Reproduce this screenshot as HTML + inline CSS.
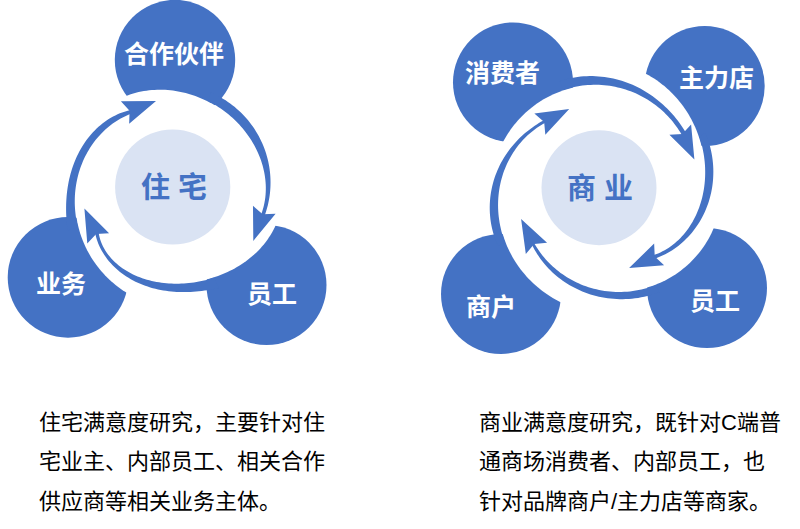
<!DOCTYPE html>
<html lang="zh"><head><meta charset="utf-8"><title>满意度研究</title>
<style>html,body{margin:0;padding:0;background:#fff;font-family:"Liberation Sans","Noto Sans CJK SC",sans-serif;}svg{display:block}</style>
</head><body>
<svg width="800" height="529" viewBox="0 0 800 529">
<rect width="800" height="529" fill="#fff"/>
<mask id="m1" maskUnits="userSpaceOnUse" x="0" y="0" width="800" height="529"><rect width="800" height="529" fill="#fff"/><path d="M138.14 298.94L135.43 297.65L132.77 296.29L130.16 294.87L127.59 293.37L125.08 291.82L122.62 290.19L120.21 288.51L117.85 286.77L115.55 284.97L113.31 283.12L111.13 281.22L109.01 279.26L106.94 277.26L104.94 275.21L103 273.11L101.13 270.98L99.32 268.8L97.57 266.59L95.88 264.34L94.26 262.05L92.71 259.73L91.22 257.39L89.8 255.01L88.44 252.61L87.15 250.18L85.93 247.73L84.78 245.26L83.69 242.77L82.67 240.27L81.71 237.75L80.82 235.21L80 232.67L79.24 230.11L78.55 227.54L77.93 224.97L77.37 222.39L76.88 219.81L76.46 217.23L76.1 214.65L75.8 212.06L75.57 209.48L75.4 206.9L75.3 204.33L75.26 201.77L75.28 199.21L75.36 196.66L75.51 194.13L75.72 191.6L75.99 189.09L76.32 186.6L76.71 184.12L77.16 181.65L77.67 179.21L78.24 176.79L78.87 174.39L79.55 172.01L80.29 169.66L81.09 167.33L81.94 165.03L82.85 162.76L83.81 160.51L84.83 158.3L85.9 156.12L87.02 153.97L88.19 151.86L89.42 149.78L90.69 147.75L92.02 145.74L93.39 143.78L94.81 141.86L96.27 139.99L97.78 138.15L99.34 136.37L100.94 134.62L102.58 132.93L104.26 131.28L105.99 129.69L107.75 128.15L109.55 126.66L111.38 125.22L113.25 123.84L115.16 122.52L117.09 121.25L119.06 120.04L121.05 118.9L123.08 117.81L125.12 116.79L127.2 115.83L129.29 114.94L131.4 114.11L133.54 113.35L172 190Z" fill="#000"/></mask><circle cx="68" cy="277.4" r="60.3" fill="#4472C4" mask="url(#m1)"/>
<mask id="m2" maskUnits="userSpaceOnUse" x="0" y="0" width="800" height="529"><rect width="800" height="529" fill="#fff"/><path d="M115.68 100.85L118.1 99.56L120.56 98.34L123.06 97.21L125.59 96.16L128.15 95.19L130.73 94.3L133.33 93.49L135.95 92.77L138.58 92.12L141.23 91.56L143.88 91.07L146.54 90.66L149.21 90.32L151.87 90.07L154.54 89.88L157.2 89.77L159.85 89.73L162.5 89.77L165.13 89.87L167.76 90.04L170.37 90.28L172.96 90.59L175.54 90.95L178.1 91.39L180.64 91.88L183.16 92.44L185.66 93.05L188.13 93.72L190.58 94.45L193 95.23L195.4 96.07L197.77 96.96L200.11 97.9L202.42 98.9L204.71 99.94L206.96 101.03L209.18 102.17L211.37 103.36L213.53 104.59L215.65 105.87L217.74 107.19L219.8 108.55L221.83 109.96L223.81 111.4L225.77 112.89L227.68 114.42L229.56 115.99L231.4 117.59L233.2 119.24L234.97 120.92L236.69 122.64L238.38 124.39L240.02 126.18L241.63 128.01L243.19 129.87L244.7 131.77L246.18 133.69L247.6 135.66L248.98 137.65L250.32 139.68L251.6 141.73L252.84 143.82L254.03 145.93L255.16 148.08L256.25 150.25L257.27 152.45L258.25 154.67L259.16 156.92L260.02 159.19L260.82 161.49L261.56 163.8L262.24 166.14L262.85 168.49L263.4 170.86L263.88 173.25L264.3 175.65L264.65 178.05L264.92 180.47L265.13 182.9L265.26 185.33L265.32 187.76L265.31 190.19L265.21 192.62L265.04 195.04L264.8 197.46L264.47 199.86L264.06 202.25L263.57 204.62L263 206.97L262.35 209.3L261.62 211.6L260.8 213.87L259.91 216.1L172 190Z" fill="#000"/></mask><circle cx="175" cy="60" r="60.2" fill="#4472C4" mask="url(#m2)"/>
<mask id="m3" maskUnits="userSpaceOnUse" x="0" y="0" width="800" height="529"><rect width="800" height="529" fill="#fff"/><path d="M279.57 213.98L278.8 216.75L277.92 219.48L276.93 222.17L275.84 224.82L274.66 227.43L273.38 229.98L272.02 232.49L270.57 234.94L269.04 237.33L267.43 239.67L265.76 241.94L264.02 244.16L262.21 246.31L260.35 248.4L258.43 250.42L256.46 252.38L254.44 254.28L252.37 256.1L250.27 257.87L248.12 259.56L245.95 261.2L243.74 262.76L241.5 264.27L239.23 265.7L236.94 267.08L234.63 268.39L232.3 269.64L229.95 270.83L227.58 271.96L225.21 273.03L222.82 274.05L220.41 275L218.01 275.9L215.59 276.74L213.16 277.53L210.73 278.26L208.3 278.94L205.86 279.57L203.42 280.15L200.98 280.67L198.53 281.14L196.09 281.57L193.64 281.94L191.19 282.26L188.75 282.54L186.3 282.76L183.86 282.94L181.42 283.06L178.98 283.14L176.55 283.16L174.12 283.14L171.69 283.06L169.27 282.94L166.85 282.76L164.44 282.53L162.04 282.25L159.65 281.91L157.26 281.52L154.89 281.07L152.53 280.57L150.18 280.01L147.85 279.4L145.53 278.72L143.24 277.99L140.96 277.19L138.71 276.33L136.48 275.41L134.28 274.43L132.11 273.38L129.97 272.27L127.87 271.09L125.81 269.85L123.8 268.55L121.82 267.17L119.9 265.74L118.04 264.23L116.23 262.66L114.48 261.03L112.79 259.33L111.18 257.58L109.65 255.75L108.19 253.87L106.82 251.93L105.53 249.94L104.34 247.89L103.25 245.79L102.26 243.64L101.38 241.44L100.62 239.2L99.97 236.93L99.45 234.62L99.05 232.29L98.79 229.93L172 190Z" fill="#000"/></mask><circle cx="266.5" cy="285" r="60" fill="#4472C4" mask="url(#m3)"/>
<path d="M67.65 230.69L67.26 227.69L66.93 224.71L66.65 221.74L66.42 218.8L66.26 215.87L66.14 212.95L66.09 210.05L66.09 207.17L66.14 204.31L66.25 201.46L66.42 198.63L66.64 195.82L66.92 193.03L67.26 190.26L67.65 187.5L68.11 184.77L68.61 182.05L69.18 179.36L69.81 176.69L70.49 174.05L71.23 171.43L72.04 168.84L72.9 166.27L73.82 163.73L74.8 161.23L75.84 158.75L76.94 156.32L78.1 153.91L79.32 151.54L80.6 149.22L81.94 146.93L83.34 144.69L84.8 142.49L86.32 140.34L87.89 138.24L89.52 136.2L91.2 134.2L92.94 132.27L94.74 130.39L96.59 128.57L98.48 126.82L100.43 125.13L102.43 123.52L104.47 121.97L106.55 120.5L108.68 119.1L110.85 117.78L113.06 116.54L115.3 115.38L117.57 114.31L119.88 113.33L122.21 112.43L124.56 111.63L126.94 110.91L129.33 110.29L131.74 109.77L133.31 112.9L131.14 113.68L129 114.52L126.87 115.43L124.77 116.41L122.69 117.46L120.63 118.56L118.61 119.73L116.61 120.97L114.65 122.26L112.71 123.61L110.82 125.02L108.96 126.49L107.13 128.02L105.35 129.59L103.61 131.22L101.9 132.9L100.24 134.64L98.63 136.42L97.06 138.24L95.53 140.12L94.05 142.04L92.62 144L91.24 146L89.91 148.05L88.63 150.13L87.4 152.25L86.22 154.41L85.1 156.6L84.03 158.83L83.02 161.09L82.06 163.38L81.16 165.7L80.31 168.05L79.52 170.42L78.79 172.82L78.12 175.25L77.51 177.7L76.96 180.17L76.47 182.66L76.03 185.17L75.67 187.69L75.36 190.24L75.11 192.79L74.93 195.36L74.82 197.95L74.76 200.54L74.77 203.14L74.85 205.75L74.99 208.37L75.2 210.99L75.47 213.61L75.81 216.24L76.22 218.86L76.69 221.48L77.23 224.1L77.84 226.72Z" fill="#4472C4"/><path d="M129.17 123.66L156 101L120.89 101.13L129.58 110.72Z" fill="#4472C4"/>
<path d="M211 92.55L213.53 93.68L216.03 94.88L218.48 96.16L220.9 97.49L223.28 98.9L225.62 100.37L227.92 101.9L230.17 103.49L232.37 105.14L234.52 106.86L236.62 108.63L238.67 110.45L240.66 112.33L242.61 114.27L244.49 116.25L246.32 118.28L248.08 120.36L249.79 122.49L251.43 124.65L253.02 126.86L254.53 129.11L255.99 131.4L257.38 133.72L258.7 136.08L259.95 138.47L261.14 140.89L262.26 143.34L263.31 145.81L264.29 148.3L265.2 150.82L266.04 153.36L266.8 155.92L267.5 158.49L268.12 161.07L268.68 163.67L269.16 166.27L269.57 168.89L269.9 171.51L270.17 174.13L270.36 176.75L270.48 179.37L270.53 181.99L270.51 184.61L270.42 187.22L270.26 189.82L270.03 192.41L269.73 194.98L269.36 197.55L268.92 200.09L268.41 202.62L267.84 205.13L267.2 207.62L266.5 210.08L265.73 212.52L264.9 214.93L264.01 217.32L260.38 216.24L261.3 213.97L262.13 211.65L262.87 209.31L263.53 206.94L264.1 204.54L264.59 202.12L265 199.68L265.32 197.23L265.57 194.77L265.73 192.3L265.81 189.83L265.82 187.35L265.74 184.87L265.59 182.4L265.37 179.93L265.07 177.46L264.7 175.01L264.26 172.57L263.75 170.15L263.18 167.73L262.53 165.34L261.83 162.97L261.05 160.61L260.22 158.28L259.32 155.98L258.37 153.69L257.36 151.44L256.29 149.2L255.17 147L253.99 144.83L252.76 142.69L251.48 140.57L250.15 138.49L248.76 136.44L247.33 134.43L245.86 132.44L244.33 130.49L242.77 128.58L241.15 126.7L239.5 124.86L237.8 123.06L236.06 121.29L234.28 119.56L232.46 117.87L230.59 116.22L228.69 114.6L226.75 113.03L224.78 111.5L222.77 110.01L220.72 108.57L218.63 107.17L216.51 105.81L214.35 104.5L212.16 103.23L209.94 102.01L207.68 100.84Z" fill="#4472C4"/><path d="M252.97 205.79L253.3 240.9L275.6 213.78L262.67 214.36Z" fill="#4472C4"/>
<path d="M218.81 287.89L215.93 288.54L213.07 289.13L210.22 289.67L207.38 290.16L204.54 290.59L201.72 290.97L198.91 291.3L196.11 291.57L193.31 291.79L190.53 291.95L187.76 292.06L184.99 292.11L182.24 292.11L179.49 292.04L176.76 291.93L174.04 291.75L171.33 291.51L168.64 291.22L165.96 290.86L163.3 290.44L160.65 289.96L158.02 289.42L155.41 288.82L152.83 288.15L150.26 287.41L147.72 286.61L145.21 285.75L142.73 284.82L140.28 283.82L137.86 282.76L135.47 281.63L133.13 280.44L130.82 279.18L128.56 277.86L126.35 276.46L124.18 275.01L122.06 273.49L120 271.9L118 270.26L116.05 268.55L114.17 266.78L112.35 264.96L110.6 263.08L108.92 261.14L107.32 259.15L105.8 257.1L104.35 255.01L102.99 252.87L101.72 250.69L100.53 248.47L99.43 246.21L98.43 243.91L97.53 241.58L96.73 239.23L96.02 236.85L95.42 234.45L94.93 232.03L98.35 230.17L98.63 232.59L99.04 234.99L99.59 237.35L100.27 239.69L101.07 241.98L101.99 244.23L103.02 246.43L104.16 248.58L105.41 250.67L106.75 252.71L108.18 254.69L109.7 256.6L111.3 258.46L112.98 260.24L114.73 261.97L116.55 263.62L118.43 265.21L120.37 266.73L122.37 268.17L124.42 269.56L126.51 270.87L128.65 272.11L130.82 273.29L133.04 274.39L135.28 275.43L137.56 276.41L139.86 277.31L142.19 278.16L144.54 278.94L146.92 279.65L149.31 280.31L151.72 280.9L154.14 281.43L156.57 281.9L159.02 282.32L161.48 282.68L163.94 282.98L166.42 283.22L168.9 283.41L171.38 283.55L173.88 283.63L176.37 283.66L178.88 283.64L181.38 283.56L183.89 283.43L186.4 283.25L188.91 283.02L191.42 282.74L193.93 282.4L196.44 282.01L198.96 281.57L201.47 281.08L203.98 280.53L206.48 279.93L208.98 279.27L211.48 278.56L213.98 277.79Z" fill="#4472C4"/><path d="M109.09 233.37L84.4 208.4L87.29 243.4L96.16 233.97Z" fill="#4472C4"/>
<circle cx="172.7" cy="187" r="57.6" fill="#DAE3F3"/>
<mask id="m4" maskUnits="userSpaceOnUse" x="0" y="0" width="800" height="529"><rect width="800" height="529" fill="#fff"/><path d="M572.87 307.61L569.86 306.46L566.9 305.24L563.98 303.93L561.1 302.56L558.27 301.11L555.49 299.59L552.76 298L550.08 296.34L547.46 294.62L544.89 292.83L542.38 290.97L539.92 289.06L537.53 287.09L535.19 285.06L532.93 282.97L530.72 280.83L528.58 278.64L526.51 276.4L524.5 274.11L522.57 271.78L520.7 269.4L518.91 266.98L517.18 264.52L515.53 262.02L513.96 259.49L512.45 256.93L511.03 254.33L509.68 251.71L508.4 249.06L507.2 246.39L506.08 243.69L505.04 240.98L504.07 238.25L503.19 235.5L502.38 232.74L501.64 229.97L500.99 227.19L500.41 224.4L499.92 221.61L499.5 218.82L499.15 216.03L498.89 213.25L498.7 210.46L498.59 207.69L498.55 204.92L498.59 202.17L498.71 199.42L498.9 196.7L499.16 193.99L499.49 191.3L499.9 188.63L500.38 185.98L500.93 183.37L501.54 180.77L502.23 178.21L502.98 175.68L503.8 173.18L504.68 170.71L505.62 168.28L506.63 165.89L507.69 163.54L508.82 161.23L510.01 158.96L511.25 156.74L512.54 154.56L513.89 152.42L515.29 150.34L516.74 148.3L518.24 146.32L519.78 144.39L521.37 142.51L523.01 140.68L524.68 138.91L526.4 137.19L528.15 135.54L529.94 133.94L531.77 132.39L533.62 130.91L535.51 129.49L537.43 128.12L539.37 126.82L541.34 125.58L543.33 124.4L545.34 123.29L547.37 122.23L602 188Z" fill="#000"/></mask><circle cx="501" cy="294" r="60" fill="#4472C4" mask="url(#m4)"/>
<mask id="m5" maskUnits="userSpaceOnUse" x="0" y="0" width="800" height="529"><rect width="800" height="529" fill="#fff"/><path d="M497.39 154.34L498.45 151.68L499.57 149.05L500.76 146.46L502.02 143.9L503.33 141.37L504.71 138.88L506.15 136.44L507.65 134.03L509.21 131.67L510.83 129.35L512.5 127.07L514.23 124.85L516.02 122.67L517.86 120.54L519.75 118.46L521.69 116.44L523.68 114.47L525.72 112.55L527.81 110.69L529.94 108.89L532.12 107.15L534.34 105.47L536.6 103.85L538.9 102.29L541.23 100.79L543.61 99.36L546.01 98L548.45 96.7L550.92 95.47L553.41 94.3L555.93 93.21L558.48 92.18L561.05 91.23L563.64 90.34L566.25 89.52L568.88 88.78L571.52 88.11L574.18 87.51L576.84 86.98L579.52 86.52L582.2 86.14L584.89 85.83L587.58 85.59L590.27 85.42L592.96 85.33L595.64 85.3L598.33 85.35L601 85.47L603.67 85.67L606.32 85.93L608.97 86.26L611.6 86.67L614.21 87.14L616.8 87.68L619.38 88.29L621.93 88.96L624.46 89.7L626.96 90.51L629.44 91.38L631.88 92.31L634.3 93.31L636.69 94.37L639.04 95.49L641.36 96.66L643.64 97.9L645.88 99.19L648.09 100.54L650.25 101.94L652.38 103.39L654.46 104.9L656.5 106.45L658.49 108.06L660.44 109.71L662.34 111.41L664.19 113.15L665.99 114.94L667.75 116.76L669.45 118.63L671.11 120.54L672.71 122.48L674.26 124.46L675.76 126.47L677.2 128.52L678.59 130.59L679.93 132.7L681.21 134.83L682.44 137L602 188Z" fill="#000"/></mask><circle cx="513" cy="82.4" r="60" fill="#4472C4" mask="url(#m5)"/>
<mask id="m6" maskUnits="userSpaceOnUse" x="0" y="0" width="800" height="529"><rect width="800" height="529" fill="#fff"/><path d="M633.99 68.46L637.01 69.64L640 70.91L642.93 72.28L645.81 73.73L648.64 75.27L651.41 76.89L654.12 78.59L656.78 80.36L659.37 82.21L661.89 84.13L664.36 86.12L666.75 88.17L669.08 90.28L671.33 92.45L673.52 94.68L675.63 96.96L677.67 99.28L679.64 101.66L681.53 104.07L683.36 106.53L685.1 109.03L686.77 111.56L688.37 114.12L689.89 116.72L691.33 119.34L692.7 121.99L694 124.66L695.22 127.35L696.36 130.06L697.43 132.79L698.42 135.53L699.34 138.29L700.19 141.05L700.96 143.82L701.66 146.6L702.28 149.39L702.84 152.18L703.32 154.96L703.72 157.75L704.06 160.54L704.33 163.32L704.52 166.09L704.64 168.86L704.7 171.61L704.68 174.36L704.59 177.09L704.44 179.81L704.22 182.52L703.93 185.2L703.57 187.87L703.14 190.52L702.65 193.14L702.09 195.74L701.47 198.32L700.78 200.87L700.02 203.39L699.2 205.88L698.32 208.33L697.37 210.75L696.36 213.14L695.28 215.48L694.15 217.79L692.95 220.05L691.69 222.27L690.37 224.45L689 226.57L687.56 228.65L686.07 230.67L684.52 232.63L682.92 234.54L681.26 236.39L679.55 238.18L677.79 239.9L675.98 241.56L674.12 243.14L672.22 244.66L670.27 246.1L668.27 247.46L666.24 248.74L664.17 249.94L662.06 251.06L659.92 252.09L657.75 253.03L655.55 253.87L653.33 254.63L651.08 255.28L602 188Z" fill="#000"/></mask><circle cx="704.7" cy="86" r="60" fill="#4472C4" mask="url(#m6)"/>
<mask id="m7" maskUnits="userSpaceOnUse" x="0" y="0" width="800" height="529"><rect width="800" height="529" fill="#fff"/><path d="M717.97 216.07L717.08 219.05L716.1 221.99L715.04 224.91L713.89 227.79L712.66 230.62L711.34 233.42L709.94 236.17L708.47 238.88L706.92 241.54L705.29 244.15L703.59 246.7L701.82 249.2L699.97 251.64L698.07 254.02L696.09 256.33L694.06 258.59L691.96 260.78L689.81 262.9L687.6 264.96L685.33 266.94L683.02 268.86L680.66 270.7L678.25 272.47L675.8 274.16L673.3 275.78L670.77 277.32L668.21 278.78L665.61 280.17L662.98 281.47L660.32 282.7L657.64 283.85L654.93 284.91L652.21 285.9L649.46 286.81L646.71 287.63L643.93 288.38L641.15 289.04L638.36 289.62L635.57 290.13L632.78 290.55L629.98 290.89L627.19 291.16L624.4 291.34L621.61 291.45L618.84 291.48L616.08 291.44L613.33 291.32L610.6 291.12L607.88 290.85L605.19 290.51L602.52 290.1L599.87 289.61L597.24 289.06L594.65 288.43L592.08 287.75L589.54 286.99L587.04 286.17L584.57 285.29L582.14 284.35L579.74 283.34L577.38 282.28L575.07 281.16L572.79 279.99L570.55 278.76L568.36 277.48L566.22 276.15L564.11 274.77L562.06 273.35L560.05 271.88L558.09 270.36L556.18 268.8L554.32 267.2L552.51 265.56L550.75 263.89L549.04 262.18L547.39 260.43L545.78 258.65L544.23 256.85L542.73 255.01L541.28 253.14L539.89 251.25L538.55 249.34L537.26 247.4L536.03 245.44L534.85 243.46L533.72 241.46L602 188Z" fill="#000"/></mask><circle cx="707" cy="288" r="60" fill="#4472C4" mask="url(#m7)"/>
<path d="M498.12 246.09L496.86 243.24L495.69 240.35L494.63 237.42L493.67 234.46L492.82 231.48L492.07 228.48L491.43 225.46L490.89 222.43L490.45 219.39L490.12 216.34L489.88 213.3L489.75 210.26L489.72 207.22L489.78 204.2L489.95 201.19L490.2 198.21L490.55 195.24L491 192.29L491.53 189.38L492.15 186.5L492.85 183.65L493.64 180.83L494.51 178.06L495.45 175.32L496.48 172.63L497.57 169.99L498.74 167.4L499.97 164.85L501.27 162.35L502.63 159.91L504.06 157.52L505.53 155.19L507.07 152.91L508.65 150.69L510.28 148.53L511.96 146.43L513.69 144.38L515.45 142.4L517.25 140.47L519.09 138.6L520.95 136.8L522.85 135.05L524.78 133.36L526.73 131.73L528.71 130.15L530.71 128.63L532.73 127.17L534.76 125.77L536.81 124.41L538.87 123.12L540.94 121.87L543.03 120.67L545.12 119.53L547.05 121.85L545 122.92L542.96 124.05L540.95 125.25L538.96 126.51L536.99 127.83L535.05 129.22L533.15 130.66L531.27 132.17L529.43 133.74L527.62 135.36L525.85 137.05L524.12 138.79L522.42 140.59L520.78 142.45L519.17 144.36L517.62 146.32L516.11 148.34L514.65 150.41L513.24 152.53L511.88 154.69L510.58 156.91L509.34 159.17L508.15 161.47L507.02 163.82L505.96 166.21L504.95 168.63L504.01 171.1L503.13 173.6L502.32 176.14L501.58 178.71L500.9 181.31L500.3 183.94L499.76 186.6L499.3 189.28L498.9 191.99L498.59 194.72L498.34 197.46L498.17 200.23L498.08 203L498.06 205.8L498.12 208.6L498.26 211.41L498.48 214.23L498.77 217.05L499.15 219.87L499.6 222.69L500.13 225.51L500.74 228.33L501.43 231.14L502.2 233.94L503.05 236.72L503.98 239.5L504.99 242.25Z" fill="#4472C4"/><path d="M545.33 134.86L569.2 109.1L534.36 113.51L544.16 121.97Z" fill="#4472C4"/>
<path d="M559.82 81.06L562.74 80.14L565.68 79.32L568.64 78.59L571.61 77.96L574.6 77.42L577.6 76.97L580.61 76.61L583.62 76.35L586.63 76.18L589.64 76.09L592.64 76.1L595.63 76.19L598.61 76.38L601.58 76.64L604.53 77L607.46 77.43L610.37 77.95L613.26 78.55L616.12 79.23L618.95 79.99L621.75 80.82L624.51 81.73L627.25 82.7L629.94 83.75L632.6 84.87L635.22 86.05L637.8 87.3L640.34 88.61L642.83 89.99L645.28 91.42L647.68 92.9L650.04 94.45L652.35 96.04L654.61 97.69L656.83 99.39L658.99 101.14L661.11 102.93L663.18 104.76L665.19 106.64L667.16 108.56L669.07 110.51L670.94 112.51L672.75 114.54L674.52 116.6L676.23 118.7L677.9 120.83L679.52 122.99L681.08 125.17L682.6 127.39L684.07 129.63L685.49 131.9L686.86 134.19L682.86 136.73L681.6 134.51L680.28 132.32L678.91 130.17L677.48 128.04L675.99 125.94L674.45 123.88L672.85 121.86L671.2 119.87L669.49 117.93L667.73 116.02L665.92 114.16L664.06 112.34L662.15 110.56L660.18 108.83L658.17 107.15L656.11 105.53L654.01 103.95L651.86 102.42L649.66 100.95L647.43 99.54L645.15 98.18L642.83 96.88L640.47 95.64L638.08 94.47L635.65 93.35L633.18 92.3L630.69 91.31L628.16 90.39L625.61 89.54L623.02 88.75L620.42 88.04L617.78 87.39L615.13 86.81L612.46 86.31L609.77 85.87L607.06 85.51L604.34 85.23L601.61 85.01L598.87 84.87L596.12 84.81L593.37 84.82L590.61 84.91L587.85 85.07L585.09 85.3L582.34 85.62L579.59 86.01L576.85 86.47L574.11 87.01L571.39 87.63L568.68 88.32L565.99 89.08L563.32 89.92Z" fill="#4472C4"/><path d="M669.41 134.84L694.4 159.5L691.09 124.54L682.33 134.07Z" fill="#4472C4"/>
<path d="M705.53 132.95L706.68 135.84L707.74 138.76L708.71 141.71L709.59 144.67L710.37 147.65L711.07 150.65L711.67 153.66L712.18 156.68L712.6 159.7L712.92 162.72L713.16 165.75L713.3 168.77L713.35 171.78L713.3 174.79L713.17 177.78L712.95 180.75L712.64 183.71L712.24 186.64L711.76 189.56L711.19 192.44L710.53 195.29L709.8 198.12L708.98 200.9L708.08 203.65L707.1 206.36L706.04 209.03L704.91 211.65L703.71 214.23L702.43 216.76L701.09 219.23L699.68 221.65L698.2 224.02L696.65 226.32L695.05 228.57L693.39 230.76L691.67 232.89L689.89 234.95L688.07 236.94L686.19 238.87L684.26 240.73L682.3 242.52L680.29 244.24L678.23 245.88L676.15 247.45L674.02 248.95L671.87 250.38L669.69 251.73L667.48 253L665.24 254.2L662.99 255.32L660.72 256.36L658.43 257.33L656.13 258.21L653.81 259.03L651.37 255.68L653.66 255.01L655.92 254.24L658.15 253.38L660.36 252.41L662.53 251.36L664.67 250.21L666.77 248.98L668.84 247.67L670.86 246.27L672.83 244.8L674.76 243.25L676.65 241.62L678.48 239.92L680.26 238.16L681.99 236.33L683.66 234.44L685.28 232.48L686.84 230.47L688.34 228.4L689.78 226.28L691.17 224.1L692.49 221.88L693.75 219.61L694.95 217.29L696.08 214.94L697.15 212.54L698.16 210.1L699.1 207.63L699.98 205.12L700.79 202.58L701.53 200.01L702.21 197.4L702.81 194.78L703.35 192.12L703.83 189.44L704.23 186.74L704.56 184.02L704.82 181.28L705.02 178.53L705.14 175.75L705.19 172.97L705.17 170.17L705.08 167.36L704.92 164.55L704.68 161.73L704.37 158.9L703.99 156.07L703.53 153.23L703 150.4L702.39 147.57L701.71 144.74L700.95 141.92L700.12 139.11L699.21 136.31Z" fill="#4472C4"/><path d="M654.15 243.5L629.1 268.1L664.11 265.33L654.72 256.43Z" fill="#4472C4"/>
<path d="M659.49 292.26L656.49 293.34L653.46 294.33L650.41 295.22L647.35 296.03L644.29 296.74L641.21 297.36L638.13 297.88L635.05 298.32L631.97 298.66L628.89 298.92L625.82 299.08L622.76 299.16L619.71 299.14L616.67 299.04L613.66 298.85L610.66 298.58L607.69 298.22L604.74 297.78L601.82 297.26L598.92 296.66L596.07 295.98L593.24 295.22L590.45 294.38L587.7 293.47L584.99 292.49L582.32 291.44L579.7 290.31L577.13 289.12L574.6 287.87L572.12 286.55L569.69 285.17L567.31 283.73L564.99 282.23L562.72 280.67L560.51 279.07L558.36 277.41L556.26 275.7L554.23 273.94L552.25 272.14L550.34 270.3L548.49 268.41L546.7 266.49L544.97 264.53L543.31 262.54L541.72 260.51L540.18 258.45L538.72 256.36L537.31 254.25L535.98 252.12L534.7 249.96L533.5 247.78L532.36 245.59L531.28 243.37L533.33 241.77L534.49 243.82L535.71 245.85L536.98 247.86L538.31 249.85L539.69 251.82L541.13 253.76L542.63 255.67L544.18 257.55L545.78 259.4L547.44 261.22L549.16 263L550.93 264.75L552.75 266.46L554.63 268.12L556.56 269.75L558.54 271.34L560.57 272.88L562.65 274.37L564.78 275.81L566.96 277.2L569.19 278.55L571.46 279.83L573.78 281.06L576.14 282.24L578.54 283.35L580.99 284.41L583.47 285.4L585.99 286.33L588.55 287.19L591.15 287.99L593.77 288.72L596.43 289.37L599.11 289.96L601.83 290.48L604.57 290.92L607.33 291.28L610.11 291.57L612.91 291.79L615.73 291.92L618.57 291.98L621.41 291.95L624.27 291.85L627.13 291.66L630 291.39L632.87 291.04L635.73 290.6L638.6 290.08L641.46 289.48L644.32 288.79L647.16 288.02L649.99 287.16L652.8 286.22L655.6 285.19Z" fill="#4472C4"/><path d="M547.06 242.74L521.1 219.1L525.82 253.9L534.19 244.02Z" fill="#4472C4"/>
<circle cx="599" cy="187.7" r="57.5" fill="#DAE3F3"/>
<g font-family="Liberation Sans, Noto Sans CJK SC, sans-serif" font-weight="bold" fill="#fff"><text x="124" y="63" font-size="25">合作伙伴</text><text x="36" y="293" font-size="25">业务</text><text x="247" y="303" font-size="25">员工</text><text x="465" y="82" font-size="25">消费者</text><text x="679" y="87" font-size="25">主力店</text><text x="466" y="316" font-size="25">商户</text><text x="690" y="310" font-size="25">员工</text></g>
<g font-family="Liberation Sans, Noto Sans CJK SC, sans-serif" font-weight="bold" fill="#4472C4"><text x="141" y="198" font-size="29">住 宅</text><text x="567" y="199" font-size="29">商 业</text></g>
<g font-family="Liberation Sans, Noto Sans CJK SC, sans-serif" fill="#000"><text x="39" y="430" font-size="22">住宅满意度研究，主要针对住</text><text x="39" y="469.4" font-size="22">宅业主、内部员工、相关合作</text><text x="39" y="508.8" font-size="22">供应商等相关业务主体。</text><text x="479" y="430" font-size="22">商业满意度研究，既针对C端普</text><text x="479" y="469.4" font-size="22">通商场消费者、内部员工，也</text><text x="479" y="508.8" font-size="22">针对品牌商户/主力店等商家。</text></g>
</svg>
</body></html>
